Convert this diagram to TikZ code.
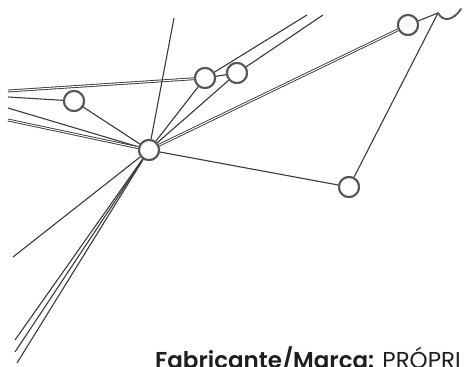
\documentclass[tikz,border=0pt]{standalone}
\usepackage{fontspec}
\setmainfont{Poppins}
\newfontfamily\popmed{Poppins SemiBold}
\definecolor{ringgray}{HTML}{555555}
\definecolor{linegray}{HTML}{3A3A3A}
\definecolor{txt}{HTML}{1E1E1E}
\begin{document}
\begin{tikzpicture}[x=1pt,y=-1pt,
  circ/.style={circle,draw=ringgray,fill=white,line width=2pt,minimum size=20pt,inner sep=0pt},
  ln/.style={draw=linegray,line width=1.1pt},
  dbl/.style={draw=linegray,line width=0.9pt,double=white,double distance=1pt}]
\useasboundingbox (0,0) rectangle (464,367);
% nodes
\node[circ] (H) at (149,150) {};
\node[circ] (A) at (74,101) {};
\node[circ] (B) at (205,78) {};
\node[circ] (C) at (237,73) {};
\node[circ] (D) at (408,25) {};
\node[circ] (E) at (349,187) {};
% free ends
\coordinate (l1) at (8,91);
\coordinate (l2) at (8,97);
\coordinate (l3) at (8,108);
\coordinate (l4) at (8,120);
\coordinate (t1) at (174,18);
\coordinate (t2) at (307,15);
\coordinate (t3) at (323,15);
\coordinate (d1) at (13,257);
\coordinate (d2) at (15,340);
\coordinate (d3) at (15,352);
\coordinate (d4) at (17,363);
\coordinate (T) at (438,13);
\coordinate (Tend) at (461,9);
% connectors
\draw[dbl] (l1) -- (B);
\draw[ln] (l2) -- (A);
\draw[ln] (l3) -- (H);
\draw[dbl] (l4) -- (H);
\draw[ln] (t1) -- (H);
\draw[ln] (t2) -- (B);
\draw[ln] (t3) -- (C);
\draw[ln] (d1) -- (H);
\draw[ln] (d2) -- (H);
\draw[ln] (d3) -- (H);
\draw[ln] (d4) -- (H);
\draw[ln] (A) -- (H);
\draw[ln] (H) -- (B);
\draw[ln] (H) -- (C);
\draw[dbl] (H) -- (D);
\draw[ln] (H) -- (E);
\draw[ln] (B) -- (C);
\draw[ln] (D) -- (T);
\draw[ln] (E) -- (T);
\draw[draw=ringgray,line width=1.9pt,line cap=round] (T) .. controls (443,22) and (453,21) .. (Tend);
% redraw circles on top
\foreach \n in {H,A,B,C,D,E} {\node[circ] at (\n) {};}
% text
\node[anchor=base west,inner sep=0pt,text=txt] (lbl) at (155,368)
  {\fontsize{23}{26}\selectfont{\popmed Fabricante/Marca:} PRÓPRI};
\end{tikzpicture}
\end{document}
